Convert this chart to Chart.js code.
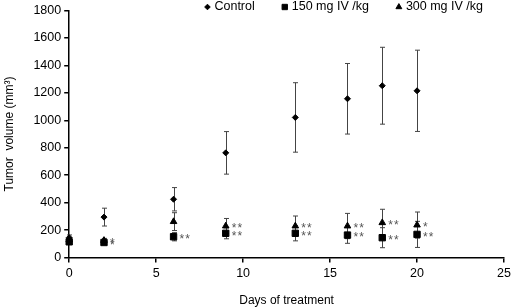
<!DOCTYPE html>
<html><head><meta charset="utf-8">
<script src="https://cdn.jsdelivr.net/npm/chart.js@4/dist/chart.umd.min.js"></script>
<style>html,body{margin:0;padding:0;background:#fff}#wrap{width:512px;height:308px}</style>
</head><body><div id="wrap"><canvas id="c" width="512" height="308"></canvas></div>
<script>
const days = [0, 2, 6, 9, 13, 16, 18, 20];
const seriesNames = ['Control', '150 mg IV /kg', '300 mg IV /kg'];
const controlMean = [145, 295, 425, 763, 1021, 1157, 1252, 1215];
const controlErr  = [20, 65, 85, 155, 253, 257, 280, 296];
const mg150Mean = [115, 110, 152, 177, 177, 164, 145, 169];
const mg150Err  = [15, 10, 30, 40, 55, 60, 73, 95];
const mg300Mean = [130, 125, 262, 230, 230, 230, 254, 237];
const mg300Err  = [15, 15, 65, 55, 73, 92, 98, 95];
const mg150Stars = ['', '*', '**', '**', '**', '**', '**', '**'];
const mg300Stars = ['', '*', '', '**', '**', '**', '**', '*'];
const xTicks = [0, 5, 10, 15, 20, 25];
const yTicks = [0, 200, 400, 600, 800, 1000, 1200, 1400, 1600, 1800];
const xTitle = 'Days of treatment';
const yTitle = 'Tumor  volume (mm\u00B3)';

const FONT = "'Liberation Sans', Arial, sans-serif";
const toPts = (m) => days.map((d, i) => ({x: d, y: m[i]}));
const errs = [controlErr, mg150Err, mg300Err];
const means = [controlMean, mg150Mean, mg300Mean];
const stars = [null, mg150Stars, mg300Stars];

const errorBars = {
  id: 'errorBars',
  beforeDatasetsDraw(chart) {
    const {ctx, scales: {x, y}} = chart;
    ctx.save();
    ctx.strokeStyle = '#444';
    ctx.lineWidth = 1;
    means.forEach((m, s) => {
      m.forEach((v, i) => {
        const px = Math.round(x.getPixelForValue(days[i])) + 0.5;
        const t = y.getPixelForValue(v + errs[s][i]);
        const b = y.getPixelForValue(v - errs[s][i]);
        ctx.beginPath();
        ctx.moveTo(px, t); ctx.lineTo(px, b);
        ctx.moveTo(px - 2.5, t); ctx.lineTo(px + 2.5, t);
        ctx.moveTo(px - 2.5, b); ctx.lineTo(px + 2.5, b);
        ctx.stroke();
      });
    });
    ctx.restore();
  },
  afterDatasetsDraw(chart) {
    const {ctx, scales: {x, y}} = chart;
    ctx.save();
    ctx.fillStyle = '#555';
    ctx.font = '12px ' + FONT;
    ctx.textAlign = 'left';
    ctx.textBaseline = 'middle';
    stars.forEach((arr, s) => {
      if (!arr) return;
      arr.forEach((st, i) => {
        if (!st) return;
        const px = x.getPixelForValue(days[i]) + 6;
        const py = y.getPixelForValue(means[s][i]) + 3;
        ctx.fillText(st.split('').join('\u200A'), px, py);
      });
    });
    ctx.restore();
  }
};

const customLegend = {
  id: 'customLegend',
  afterDraw(chart) {
    const {ctx, chartArea} = chart;
    ctx.save();
    ctx.font = '12.5px ' + FONT;
    ctx.textBaseline = 'middle';
    const gap = 30, mk = 7;
    const ds = chart.data.datasets;
    let total = 0;
    ds.forEach((d, i) => { total += mk + ctx.measureText(d.label).width + (i < ds.length - 1 ? gap : 0); });
    let cx = chartArea.right - 21 - total;
    const cy = 7;
    ds.forEach((d) => {
      ctx.fillStyle = '#000'; ctx.strokeStyle = '#000';
      Chart.helpers.drawPoint(ctx, {pointStyle: d.pointStyle, radius: d.legendRadius, borderWidth: 1}, cx, cy);
      ctx.fillStyle = '#000';
      ctx.fillText(d.label, cx + mk, cy);
      cx += mk + ctx.measureText(d.label).width + gap;
    });
    ctx.restore();
  }
};

const tickFont = {family: FONT, size: 12.5};

new Chart(document.getElementById('c'), {
  type: 'scatter',
  data: {
    datasets: [
      {label: seriesNames[0], data: toPts(controlMean), pointStyle: 'rectRot', pointRadius: 3, legendRadius: 2.8,
       backgroundColor: '#000', borderColor: '#000', order: 1, clip: false},
      {label: seriesNames[1], data: toPts(mg150Mean), pointStyle: 'rect', pointRadius: 4.5, legendRadius: 3.8,
       backgroundColor: '#000', borderColor: '#000', order: 2, clip: false},
      {label: seriesNames[2], data: toPts(mg300Mean), pointStyle: 'triangle', pointRadius: 3.8, legendRadius: 3.4,
       backgroundColor: '#000', borderColor: '#000', order: 3, clip: false}
    ]
  },
  options: {
    responsive: false,
    animation: false,
    devicePixelRatio: 1,
    layout: {padding: {top: 7, right: 0, left: 2, bottom: 0}},
    plugins: {legend: {display: false}, tooltip: {enabled: false}},
    scales: {
      x: {
        type: 'linear', min: 0, max: 25,
        afterBuildTicks: (ax) => { ax.ticks = xTicks.map(v => ({value: v})); },
        afterFit: (ax) => { ax.paddingRight = 8; },
        ticks: {color: '#000', font: tickFont, padding: 3, callback: (v) => String(v)},
        grid: {display: true, drawOnChartArea: false, drawTicks: true, tickLength: 5, color: '#000', lineWidth: 1.5},
        border: {color: '#000', width: 1.5},
        title: {display: true, text: xTitle, color: '#000', font: {family: FONT, size: 12}, padding: {top: 10, bottom: 0}}
      },
      y: {
        type: 'linear', min: 0, max: 1800,
        afterBuildTicks: (ax) => { ax.ticks = yTicks.map(v => ({value: v})); },
        ticks: {color: '#000', font: tickFont, padding: 3, callback: (v) => String(v)},
        grid: {display: true, drawOnChartArea: false, drawTicks: true, tickLength: 5, color: '#000', lineWidth: 1.5},
        border: {color: '#000', width: 1.5},
        title: {display: true, text: yTitle, color: '#000', font: {family: FONT, size: 12}, padding: {top: 0, bottom: 14}}
      }
    }
  },
  plugins: [errorBars, customLegend]
});
</script>
</body></html>
